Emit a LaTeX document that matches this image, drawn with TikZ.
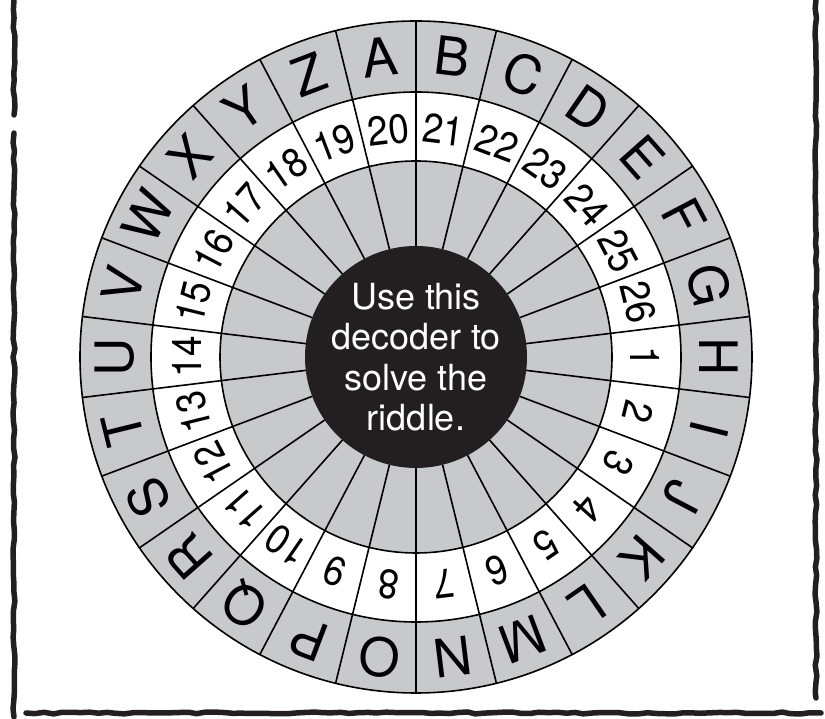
\documentclass[tikz,border=0pt]{standalone}
\usepackage{fontspec}
\setmainfont{TeX Gyre Heros}
\newfontfamily\numfont[FakeStretch=0.9]{TeX Gyre Heros}
\usetikzlibrary{decorations.pathmorphing}
\definecolor{wheelgray}{RGB}{200,201,203}
\definecolor{hubblack}{RGB}{35,31,32}

\begin{document}
\begin{tikzpicture}[x=1pt, y=1pt,
    letter/.style={inner sep=0pt, text height=38pt, text depth=0pt, font=\fontsize{53}{53}\selectfont},
    number/.style={inner sep=0pt, text height=29pt, text depth=0pt, font=\numfont\fontsize{41}{41}\selectfont},
    rough/.style={line width=5.5pt, draw=hubblack, line cap=round, decorate,
        decoration={random steps, segment length=9pt, amplitude=1pt}}]
    \useasboundingbox (0,0) rectangle (825,719);

    % Draw border
    \pgfmathsetseed{42}
    \draw[rough] (14,719) -- (14,604);
    \draw[rough] (14,586) -- (14,2);
    \draw[rough] (816,719) -- (816,21);
    \draw[rough] (26,6) -- (821,6);

    \begin{scope}[shift={(416,362)}]
        % Draw rings
        \fill[wheelgray] (0,0) circle (336);
        \fill[white] (0,0) circle (265);
        \fill[wheelgray] (0,0) circle (196);
        \draw[line width=1.6pt] (0,0) circle (336) (0,0) circle (265) (0,0) circle (196);

        % Draw spokes
        \foreach \k in {0,...,25}
            \draw[line width=1.6pt] (90-\k*360/26:111) -- (90-\k*360/26:336);

        % Draw hub
        \node[circle, fill=hubblack, minimum size=222pt, inner sep=0pt] (hub) at (0,0) {};
        \node[align=center, text=white, font=\fontsize{36}{40.5}\selectfont] (msg) at (hub.center)
            {Use this\\decoder to\\solve the\\riddle.};

        % Letters and numbers
        \foreach \L [count=\i from 0] in {A,B,C,D,E,F,G,H,I,J,K,L,M,N,O,P,Q,R,S,T,U,V,W,X,Y,Z} {
            \pgfmathsetmacro\a{90+180/26-\i*360/26}
            \pgfmathtruncatemacro\n{mod(\i+19,26)+1}
            \node[letter, rotate=\a-90] (L\i) at (\a:302) {\L};
            \node[number, rotate=\a-90] (N\i) at (\a:229) {\n};
        }
    \end{scope}
\end{tikzpicture}
\end{document}
